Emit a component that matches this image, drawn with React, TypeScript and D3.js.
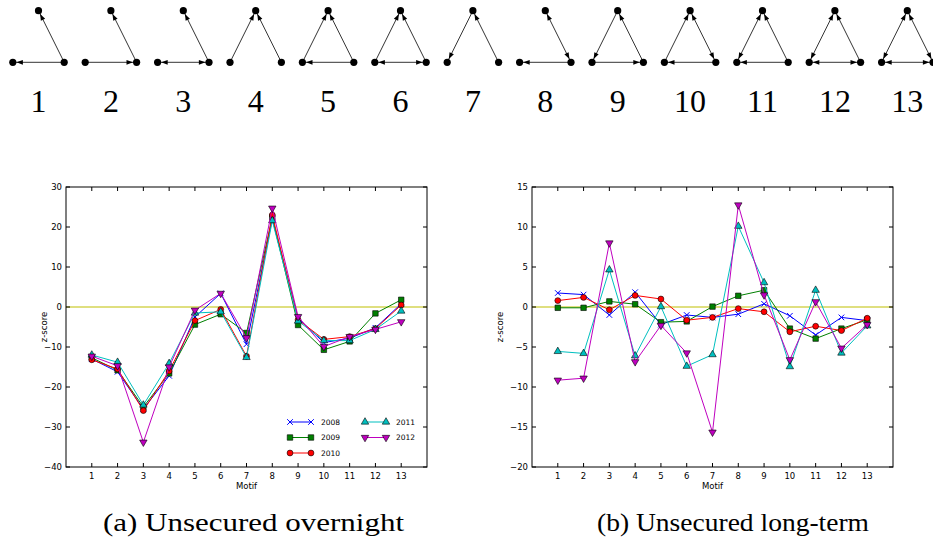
import React from 'react';
import * as d3 from 'd3';

const motifNumbers = [1, 2, 3, 4, 5, 6, 7, 8, 9, 10, 11, 12, 13];
const years = ['2008', '2009', '2010', '2011', '2012'];
const seriesColors = ['#0000ff', '#008000', '#ff0000', '#00bfbf', '#bf00bf'];
const seriesMarkers = ['x', 'square', 'circle', 'triangleUp', 'triangleDown'];

// Unsecured overnight z-scores
const overnight2008 = [-13.0, -16.2, -25.5, -17.2, -2.5, 3.4, -9.3, 22.0, -2.8, -8.9, -7.8, -5.2, 0.8];
const overnight2009 = [-12.7, -15.8, -25.0, -16.6, -4.4, -1.8, -6.5, 22.4, -4.5, -10.7, -8.6, -1.6, 1.8];
const overnight2010 = [-13.2, -15.5, -25.9, -16.0, -3.4, -0.6, -12.3, 23.0, -3.2, -8.1, -7.4, -5.4, 0.5];
const overnight2011 = [-12.0, -13.8, -24.5, -14.1, -1.5, -1.2, -12.6, 21.6, -3.5, -8.4, -8.4, -5.6, -1.0];
const overnight2012 = [-12.3, -14.7, -33.8, -15.0, -0.8, 3.4, -7.7, 24.7, -2.4, -9.9, -7.4, -5.6, -3.7];

// Unsecured long-term z-scores
const longterm2008 = [1.75, 1.55, -1.0, 1.85, -2.2, -1.0, -1.3, -0.9, 0.4, -1.1, -3.5, -1.3, -1.7];
const longterm2009 = [-0.1, -0.1, 0.7, 0.35, -1.9, -1.8, 0.05, 1.4, 2.1, -2.7, -3.95, -2.7, -1.6];
const longterm2010 = [0.8, 1.2, -0.35, 1.45, 1.0, -1.65, -1.3, -0.2, -0.6, -3.1, -2.4, -2.95, -1.4];
const longterm2011 = [-5.55, -5.8, 4.65, -6.1, 0.05, -7.4, -5.95, 10.1, 3.05, -7.45, 2.1, -5.75, -2.35];
const longterm2012 = [-9.15, -8.9, 8.0, -6.85, -2.3, -5.75, -15.65, 12.75, 1.5, -6.6, 0.65, -5.15, -2.2];

const overnightYTicks = [-40, -30, -20, -10, 0, 10, 20, 30];
const longtermYTicks = [-20, -15, -10, -5, 0, 5, 10, 15];

const captions = ['(a) Unsecured overnight', '(b) Unsecured long-term'];

// motif edges: [from, to, arrowAtFrom, arrowAtTo]; nodes T (top), L (bottom-left), R (bottom-right)
type Edge = [string, string, boolean, boolean];
const motifEdges: Edge[][] = [
  [['R', 'T', false, true], ['R', 'L', false, true]],
  [['L', 'R', false, true], ['R', 'T', false, true]],
  [['L', 'R', true, true], ['R', 'T', false, true]],
  [['L', 'T', false, true], ['R', 'T', false, true]],
  [['L', 'T', false, true], ['R', 'T', false, true], ['R', 'L', false, true]],
  [['L', 'T', false, true], ['R', 'T', false, true], ['L', 'R', true, true]],
  [['T', 'L', false, true], ['R', 'T', false, true]],
  [['R', 'L', false, true], ['T', 'R', true, true]],
  [['T', 'L', false, true], ['R', 'T', false, true], ['L', 'R', false, true]],
  [['L', 'T', false, true], ['T', 'R', true, true], ['R', 'L', false, true]],
  [['T', 'L', true, true], ['R', 'T', false, true], ['R', 'L', false, true]],
  [['T', 'L', true, true], ['R', 'T', false, true], ['L', 'R', true, true]],
  [['T', 'L', true, true], ['T', 'R', true, true], ['L', 'R', true, true]],
];

function markerPath(kind: string): string {
  if (kind === 'x') return 'M-2.8,-2.8L2.8,2.8M-2.8,2.8L2.8,-2.8';
  if (kind === 'square') return d3.symbol(d3.symbolSquare, 30)() as string;
  if (kind === 'circle') return d3.symbol(d3.symbolCircle, 27)() as string;
  return d3.symbol(d3.symbolTriangle, 24)() as string;
}

function Marker({ kind, x, y, color }: { kind: string; x: number; y: number; color: string }) {
  const rot = kind === 'triangleDown' ? ' rotate(180)' : '';
  if (kind === 'x') {
    return <path d={markerPath(kind)} transform={`translate(${x},${y})`} stroke={color} strokeWidth={1} fill="none" />;
  }
  return (
    <path d={markerPath(kind)} transform={`translate(${x},${y})${rot}`} fill={color} stroke="#000" strokeWidth={0.6} />
  );
}

type PanelProps = {
  left: number; right: number; top: number; bottom: number;
  yDomain: [number, number]; yTicks: number[]; series: number[][];
  yLabelX: number; legend: boolean;
};

function Panel({ left, right, top, bottom, yDomain, yTicks, series, yLabelX, legend }: PanelProps) {
  const x = d3.scaleLinear().domain([0, 14]).range([left, right]);
  const y = d3.scaleLinear().domain(yDomain).range([bottom, top]);
  const line = d3.line<number>().x((_, i) => x(motifNumbers[i])).y((d) => y(d));
  const tickLen = 4;
  const font = "'DejaVu Sans', sans-serif";
  return (
    <g>
      <line x1={left} x2={right} y1={y(0)} y2={y(0)} stroke="#bfbf00" strokeWidth={1} />
      {series.map((s, si) => (
        <g key={si}>
          <path d={line(s) as string} fill="none" stroke={seriesColors[si]} strokeWidth={1} />
          {s.map((v, i) => (
            <Marker key={i} kind={seriesMarkers[si]} x={x(motifNumbers[i])} y={y(v)} color={seriesColors[si]} />
          ))}
        </g>
      ))}
      <rect x={left} y={top} width={right - left} height={bottom - top} fill="none" stroke="#000" strokeWidth={1} />
      {motifNumbers.map((m) => (
        <g key={m}>
          <line x1={x(m)} x2={x(m)} y1={bottom} y2={bottom - tickLen} stroke="#000" />
          <line x1={x(m)} x2={x(m)} y1={top} y2={top + tickLen} stroke="#000" />
          <text x={x(m)} y={bottom + 12} textAnchor="middle" fontSize={8.5} fontFamily={font}>{m}</text>
        </g>
      ))}
      {yTicks.map((t) => (
        <g key={t}>
          <line x1={left} x2={left + tickLen} y1={y(t)} y2={y(t)} stroke="#000" />
          <line x1={right} x2={right - tickLen} y1={y(t)} y2={y(t)} stroke="#000" />
          <text x={left - 4} y={y(t) + 3} textAnchor="end" fontSize={8.5} fontFamily={font}>
            {t < 0 ? '\u2212' + Math.abs(t) : String(t)}
          </text>
        </g>
      ))}
      <text x={(left + right) / 2} y={bottom + 22} textAnchor="middle" fontSize={8.5} fontFamily={font}>Motif</text>
      <text transform={`translate(${yLabelX},${(top + bottom) / 2}) rotate(-90)`} textAnchor="middle" fontSize={8.5} fontFamily={font}>z-score</text>
      {legend &&
        years.map((yr, i) => {
          const col = i < 3 ? 0 : 1;
          const row = i < 3 ? i : i - 3;
          const lx0 = col === 0 ? 290 : 365;
          const lx1 = lx0 + 21;
          const ly = 422 + row * 15.5;
          return (
            <g key={yr}>
              <line x1={lx0} x2={lx1} y1={ly} y2={ly} stroke={seriesColors[i]} strokeWidth={1} />
              <Marker kind={seriesMarkers[i]} x={lx0} y={ly} color={seriesColors[i]} />
              <Marker kind={seriesMarkers[i]} x={lx1} y={ly} color={seriesColors[i]} />
              <text x={lx1 + 10} y={ly + 2.5} fontSize={7.5} fontFamily={font}>{yr}</text>
            </g>
          );
        })}
    </g>
  );
}

function MotifGlyph({ cx, edges, label }: { cx: number; edges: Edge[]; label: number }) {
  const nodes: Record<string, [number, number]> = {
    T: [cx, 10.7],
    L: [cx - 25.7, 62.3],
    R: [cx + 25.7, 62.3],
  };
  const r = 3.6;
  const aLen = 6.5;
  const aW = 2.4;
  const head = (from: [number, number], to: [number, number], key: string) => {
    const dx = to[0] - from[0];
    const dy = to[1] - from[1];
    const d = Math.hypot(dx, dy);
    const ux = dx / d, uy = dy / d;
    const tx = to[0] - ux * r, ty = to[1] - uy * r;
    const bx = tx - ux * aLen, by = ty - uy * aLen;
    const px = -uy, py = ux;
    const pts = [[tx, ty], [bx + px * aW, by + py * aW], [bx - px * aW, by - py * aW]];
    return <polygon key={key} points={pts.map((p) => p.join(',')).join(' ')} fill="#000" />;
  };
  return (
    <g>
      {edges.map(([a, b, atA, atB], i) => (
        <g key={i}>
          <line x1={nodes[a][0]} y1={nodes[a][1]} x2={nodes[b][0]} y2={nodes[b][1]} stroke="#000" strokeWidth={0.8} />
          {atB && head(nodes[a], nodes[b], 'b')}
          {atA && head(nodes[b], nodes[a], 'a')}
        </g>
      ))}
      {Object.values(nodes).map((n, i) => (
        <circle key={i} cx={n[0]} cy={n[1]} r={r} fill="#000" />
      ))}
      <text x={cx} y={112} textAnchor="middle" fontSize={32} fontFamily="'Liberation Serif', serif">{label}</text>
    </g>
  );
}

export default function App() {
  const motifX = d3.scaleLinear().domain([1, 13]).range([38.5, 907.3]);
  const capFont = "'Liberation Serif', serif";
  return (
    <svg width={933} height={544} style={{ position: 'absolute', left: 0, top: 0, background: '#fff' }}>
      <rect width={933} height={544} fill="#fff" />
      {motifNumbers.map((m, i) => (
        <MotifGlyph key={m} cx={motifX(m)} edges={motifEdges[i]} label={m} />
      ))}
      <Panel left={66} right={427} top={187} bottom={467} yDomain={[-40, 30]} yTicks={overnightYTicks}
        series={[overnight2008, overnight2009, overnight2010, overnight2011, overnight2012]} yLabelX={47} legend={true} />
      <Panel left={532} right={893} top={187} bottom={467} yDomain={[-20, 15]} yTicks={longtermYTicks}
        series={[longterm2008, longterm2009, longterm2010, longterm2011, longterm2012]} yLabelX={503} legend={false} />
      <text x={103} y={531} fontSize={26} fontFamily={capFont} textLength={301} lengthAdjust="spacingAndGlyphs">{captions[0]}</text>
      <text x={597} y={531} fontSize={26} fontFamily={capFont} textLength={272} lengthAdjust="spacingAndGlyphs">{captions[1]}</text>
    </svg>
  );
}
